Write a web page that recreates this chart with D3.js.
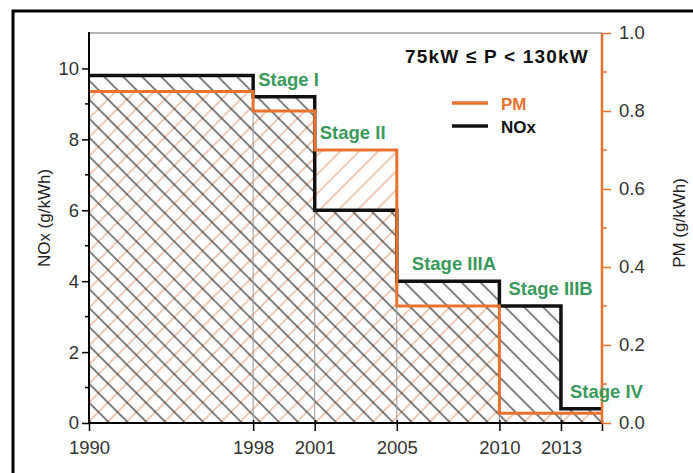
<!DOCTYPE html>
<html>
<head>
<meta charset="utf-8">
<script src="https://cdn.jsdelivr.net/npm/d3@7"></script>
<style>
  body { margin: 0; background: #fff; }
  svg { display: block; font-family: Arial, "Liberation Sans", Helvetica, sans-serif; }
</style>
</head>
<body>
<svg id="chart" width="693" height="473"></svg>
<script>
// emission limit steps, 75kW <= P < 130kW
var years = [1990, 1998, 2001, 2005, 2010, 2013, 2015]
var yearLabels = [1990, 1998, 2001, 2005, 2010, 2013]
var noxLimits = [9.8, 9.2, 6.0, 4.0, 3.3, 0.4]
var pmLimits = [0.85, 0.8, 0.7, 0.3, 0.025, 0.025]
var stageNames = ['Stage I', 'Stage II', 'Stage IIIA', 'Stage IIIB', 'Stage IV']
var noxTicks = [0, 2, 4, 6, 8, 10]
var pmTicks = [0, 0.2, 0.4, 0.6, 0.8, 1.0]

var orange = '#e9722f'
var green = '#3a9a5c'
var svg = d3.select('#chart')

var margin = {top: 33, right: 91, bottom: 50, left: 89}
var width = 693 - margin.left - margin.right
var height = 473 - margin.top - margin.bottom

var x = d3.scaleLinear().domain([1990, 2015]).range([0, width])
var yNox = d3.scaleLinear().domain([0, 11]).range([height, 0])
var yPm = d3.scaleLinear().domain([0, 1]).range([height, 0])

// outer frame (cut off at right and bottom)
svg.append('path')
  .attr('d', 'M13,480V11H700')
  .attr('fill', 'none')
  .attr('stroke', '#000')
  .attr('stroke-width', 3)

var defs = svg.append('defs')
function hatch (id, angle, color, op) {
  var p = defs.append('pattern')
    .attr('id', id)
    .attr('patternUnits', 'userSpaceOnUse')
    .attr('width', 13.4)
    .attr('height', 13.4)
    .attr('patternTransform', 'rotate(' + angle + ')')
  p.append('line')
    .attr('x1', 6.7).attr('x2', 6.7)
    .attr('y1', 0).attr('y2', 13.4)
    .attr('stroke', color)
    .attr('stroke-opacity', op)
    .attr('stroke-width', 1.3)
}
hatch('pmHatch', 45, '#e08a60', 0.7)
hatch('noxHatch', -45, '#2a2a2a', 0.9)

var g = svg.append('g')
  .attr('transform', 'translate(' + margin.left + ',' + margin.top + ')')

function stepData (vals) {
  return vals.map(function (v, i) { return {x0: years[i], x1: years[i + 1], v: v} })
}
var noxSteps = stepData(noxLimits)
var pmSteps = stepData(pmLimits)

// hatched areas
g.selectAll('.pmbar').data(pmSteps).enter().append('rect')
  .attr('class', 'pmbar')
  .attr('x', function (d) { return x(d.x0) })
  .attr('width', function (d) { return x(d.x1) - x(d.x0) })
  .attr('y', function (d) { return yPm(d.v) })
  .attr('height', function (d) { return height - yPm(d.v) })
  .attr('fill', 'url(#pmHatch)')

g.selectAll('.noxbar').data(noxSteps).enter().append('rect')
  .attr('class', 'noxbar')
  .attr('x', function (d) { return x(d.x0) })
  .attr('width', function (d) { return x(d.x1) - x(d.x0) })
  .attr('y', function (d) { return yNox(d.v) })
  .attr('height', function (d) { return height - yNox(d.v) })
  .attr('fill', 'url(#noxHatch)')

// thin grey boundaries between stages
g.selectAll('.sep').data(years.slice(1, -1)).enter().append('line')
  .attr('class', 'sep')
  .attr('x1', function (d) { return x(d) })
  .attr('x2', function (d) { return x(d) })
  .attr('y1', height)
  .attr('y2', function (d, i) {
    return Math.max(yNox(noxLimits[i + 1]), yPm(pmLimits[i + 1]))
  })
  .attr('stroke', '#999')
  .attr('stroke-width', 1)

// top grey line
g.append('line')
  .attr('x1', 0).attr('x2', width)
  .attr('y1', 0).attr('y2', 0)
  .attr('stroke', '#999')
  .attr('stroke-width', 1.5)

function stepLine (steps, y) {
  var pts = []
  steps.forEach(function (d) {
    pts.push([x(d.x0), y(d.v)])
    pts.push([x(d.x1), y(d.v)])
  })
  return d3.line()(pts)
}

g.append('path')
  .attr('d', stepLine(noxSteps, yNox))
  .attr('fill', 'none')
  .attr('stroke', '#111')
  .attr('stroke-width', 3.5)

g.append('path')
  .attr('d', stepLine(pmSteps, yPm))
  .attr('fill', 'none')
  .attr('stroke', orange)
  .attr('stroke-width', 3)

// axes
var leftAxis = g.append('g')
  .call(d3.axisLeft(yNox).tickValues(noxTicks).tickSize(7).tickPadding(3).tickFormat(d3.format('d')))
leftAxis.selectAll('.tick line').attr('stroke-width', 1.5)
leftAxis.append('g').selectAll('line').data([1, 3, 5, 7, 9]).enter().append('line')
  .attr('x1', -4).attr('x2', 0)
  .attr('y1', function (d) { return yNox(d) })
  .attr('y2', function (d) { return yNox(d) })
  .attr('stroke', '#000').attr('stroke-width', 1.5)

var bottomAxis = g.append('g')
  .attr('transform', 'translate(0,' + height + ')')
  .call(d3.axisBottom(x).tickValues(years).tickSize(8).tickPadding(10)
    .tickFormat(function (d) { return yearLabels.indexOf(d) >= 0 ? d : '' }))
bottomAxis.selectAll('.tick line').attr('stroke-width', 1.5).attr('y1', -3)

var rightAxis = g.append('g')
  .attr('transform', 'translate(' + width + ',0)')
  .call(d3.axisRight(yPm).tickValues(pmTicks).tickSize(9).tickPadding(8).tickFormat(d3.format('.1f')))
rightAxis.selectAll('.tick line').attr('stroke', orange).attr('stroke-width', 1.5)
rightAxis.append('g').selectAll('line').data([0.1, 0.3, 0.5, 0.7, 0.9]).enter().append('line')
  .attr('x1', 0).attr('x2', 5)
  .attr('y1', function (d) { return yPm(d) })
  .attr('y2', function (d) { return yPm(d) })
  .attr('stroke', orange).attr('stroke-width', 1.5)

;[leftAxis, bottomAxis, rightAxis].forEach(function (a) {
  a.selectAll('.domain').remove()
  a.selectAll('text')
    .attr('font-size', 18.5)
    .attr('font-family', 'Arial, "Liberation Sans", sans-serif')
    .attr('fill', '#333')
})

g.append('line').attr('x1', 0).attr('x2', 0).attr('y1', -1).attr('y2', height + 1)
  .attr('stroke', '#000').attr('stroke-width', 2)
g.append('line').attr('x1', 0).attr('x2', width).attr('y1', height).attr('y2', height)
  .attr('stroke', '#000').attr('stroke-width', 2)
g.append('line').attr('x1', width).attr('x2', width).attr('y1', 0).attr('y2', height)
  .attr('stroke', orange).attr('stroke-width', 2.5)

// axis titles
svg.append('text')
  .attr('transform', 'translate(50,' + (margin.top + 185) + ') rotate(-90)')
  .attr('text-anchor', 'middle')
  .attr('font-size', 17)
  .attr('fill', '#222')
  .text('NOx (g/kWh)')

svg.append('text')
  .attr('transform', 'translate(685,' + (margin.top + 190) + ') rotate(-90)')
  .attr('text-anchor', 'middle')
  .attr('font-size', 17)
  .attr('fill', '#222')
  .text('PM (g/kWh)')

// stage labels
var labelDx = [5, 5, 15, 9, 9]
g.selectAll('.stage').data(stageNames).enter().append('text')
  .attr('class', 'stage')
  .attr('x', function (d, i) { return x(years[i + 1]) + labelDx[i] })
  .attr('y', function (d, i) {
    return Math.min(yNox(noxLimits[i + 1]), yPm(pmLimits[i + 1])) - 11
  })
  .attr('font-size', 18.5)
  .attr('font-weight', 'bold')
  .attr('fill', green)
  .text(function (d) { return d })

// title
svg.append('text')
  .attr('x', 589).attr('y', 63)
  .attr('text-anchor', 'end')
  .attr('font-size', 19)
  .attr('letter-spacing', 1.2)
  .attr('font-weight', 'bold')
  .attr('fill', '#111')
  .text('75kW \u2264 P < 130kW')

// legend
var legend = [{name: 'PM', color: orange, y: 103}, {name: 'NOx', color: '#111', y: 126}]
legend.forEach(function (l) {
  svg.append('line')
    .attr('x1', 452).attr('x2', 488)
    .attr('y1', l.y).attr('y2', l.y)
    .attr('stroke', l.color).attr('stroke-width', 3.5)
  svg.append('text')
    .attr('x', 501).attr('y', l.y + 7)
    .attr('font-size', 17)
    .attr('font-weight', 'bold')
    .attr('fill', l.color)
    .text(l.name)
})
</script>
</body>
</html>
